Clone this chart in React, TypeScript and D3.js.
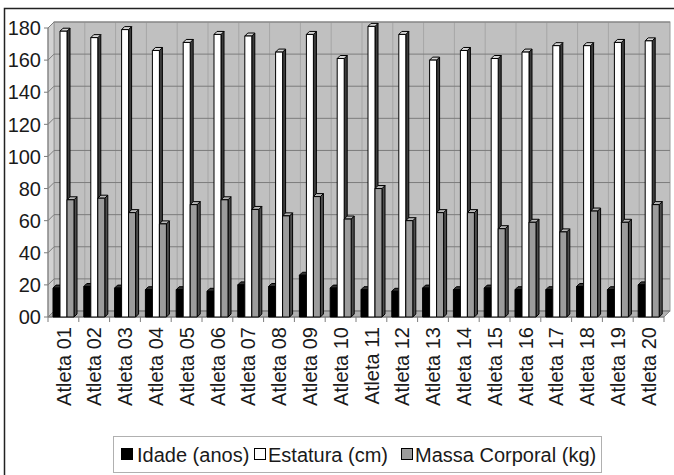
import React from "react";
import { scaleBand, scaleLinear } from "d3";

// dados
const atletas = Array.from({ length: 20 }, (_, i) => `Atleta ${String(i + 1).padStart(2, "0")}`);
const idade = [18, 19, 18, 17, 17, 16, 20, 19, 26, 18, 17, 16, 18, 17, 18, 17, 17, 19, 17, 20];
const estatura = [178, 174, 179, 166, 171, 176, 175, 165, 176, 161, 181, 176, 160, 166, 161, 165, 169, 169, 171, 172];
const massa = [73, 74, 65, 58, 70, 73, 67, 63, 75, 61, 80, 60, 65, 65, 55, 59, 53, 66, 59, 70];
const yTicks = [0, 20, 40, 60, 80, 100, 120, 140, 160, 180];
const series = [
  { key: "Idade (anos)", values: idade },
  { key: "Estatura (cm)", values: estatura },
  { key: "Massa Corporal (kg)", values: massa },
];

const colors: Record<string, { front: string; side: string; top: string }> = {
  "Idade (anos)": { front: "#000", side: "#111", top: "#333" },
  "Estatura (cm)": { front: "#fff", side: "#3c3c3c", top: "#d6d6d6" },
  "Massa Corporal (kg)": { front: "#9c9c9c", side: "#4d4d4d", top: "#b8b8b8" },
};

const W = 674;
const H = 475;
const font = "Liberation Sans, Arial, sans-serif";

export default function App() {
  const x = scaleBand<string>().domain(atletas).range([48, 664]).padding(0);
  const xs = scaleBand<string>().domain(series.map((s) => s.key)).range([5, 26]).padding(0);
  const y = scaleLinear().domain([0, 180]).range([317, 28]);

  const wd = 6; // profundidade da parede
  const bd = 3; // profundidade das barras
  const left = 48;
  const right = 664;
  const y0 = y(0);

  return (
    <svg width={W} height={H} style={{ position: "absolute", left: 0, top: 0, background: "#fff" }}>
      {/* moldura */}
      <rect x={4.5} y={8.5} width={700} height={500} fill="#fff" stroke="#222" strokeWidth={1.5} />

      {/* parede do fundo */}
      <rect x={left + wd} y={y(180) - wd} width={right - left} height={y0 - y(180)} fill="#c0c0c0" stroke="#9a9a9a" />
      {/* parede lateral */}
      <polygon
        points={`${left},${y0} ${left + wd},${y0 - wd} ${left + wd},${y(180) - wd} ${left},${y(180)}`}
        fill="#d2d2d2"
        stroke="#9a9a9a"
      />
      {/* chão */}
      <polygon
        points={`${left},${y0} ${right},${y0} ${right + wd},${y0 - wd} ${left + wd},${y0 - wd}`}
        fill="#b0b0b0"
        stroke="#8a8a8a"
      />

      {/* linhas verticais */}
      {atletas.slice(1).map((a) => (
        <line
          key={a}
          x1={x(a)! + wd}
          x2={x(a)! + wd}
          y1={y(180) - wd}
          y2={y0 - wd}
          stroke="#a6a6a6"
          strokeWidth={1}
        />
      ))}

      {/* linhas de grade */}
      {yTicks.map((t) => (
        <g key={t}>
          <line x1={left + wd} x2={right + wd} y1={y(t) - wd} y2={y(t) - wd} stroke="#7c7c7c" strokeWidth={1} />
          <line x1={left} x2={left + wd} y1={y(t)} y2={y(t) - wd} stroke="#7c7c7c" strokeWidth={1} />
          <line x1={left - 4} x2={left} y1={y(t)} y2={y(t)} stroke="#7c7c7c" />
          <text
            x={41}
            y={y(t)}
            dy="0.36em"
            textAnchor="end"
            fontFamily={font}
            fontSize={20}
            fill="#1a1a1a"
          >
            {t === 0 ? "00" : t}
          </text>
        </g>
      ))}
      <line x1={left} x2={left} y1={y(180)} y2={y0} stroke="#7c7c7c" />
      <line x1={left} x2={right} y1={y0} y2={y0} stroke="#7c7c7c" />

      {/* barras */}
      {atletas.map((a, i) => (
        <g key={a}>
          {series.map((s) => {
            const x0 = x(a)! + xs(s.key)!;
            const x1 = x0 + xs.bandwidth();
            const yv = y(s.values[i]);
            const c = colors[s.key];
            return (
              <g key={s.key} stroke="#000" strokeWidth={1} strokeLinejoin="round">
                <polygon
                  points={`${x1},${y0} ${x1 + bd},${y0 - bd} ${x1 + bd},${yv - bd} ${x1},${yv}`}
                  fill={c.side}
                />
                <polygon
                  points={`${x0},${yv} ${x0 + bd},${yv - bd} ${x1 + bd},${yv - bd} ${x1},${yv}`}
                  fill={c.top}
                />
                <rect x={x0} y={yv} width={x1 - x0} height={y0 - yv} fill={c.front} />
              </g>
            );
          })}
        </g>
      ))}

      {/* marcas e rótulos do eixo x */}
      {atletas.map((a) => (
        <line key={a} x1={x(a)!} x2={x(a)!} y1={y0} y2={y0 + 5} stroke="#7c7c7c" />
      ))}
      <line x1={right} x2={right} y1={y0} y2={y0 + 5} stroke="#7c7c7c" />
      {atletas.map((a) => {
        const cx = x(a)! + x.bandwidth() / 2;
        return (
          <text
            key={a}
            transform={`translate(${cx},${327}) rotate(-90)`}
            dy="0.36em"
            textAnchor="end"
            fontFamily={font}
            fontSize={20}
            fill="#1a1a1a"
          >
            {a}
          </text>
        );
      })}

      {/* legenda */}
      <rect x={113.5} y={436.5} width={488} height={36} fill="#fff" stroke="#b0b0b0" />
      {[
        { sx: 121, tx: 137 },
        { sx: 254, tx: 268 },
        { sx: 401, tx: 415 },
      ].map((p, i) => {
        const s = series[i];
        return (
          <g key={s.key}>
            <rect x={p.sx + 0.5} y={448.5} width={11} height={11} fill={colors[s.key].front} stroke="#000" />
            <text x={p.tx} y={455} dy="0.36em" fontFamily={font} fontSize={20} fill="#1a1a1a">
              {s.key}
            </text>
          </g>
        );
      })}
    </svg>
  );
}
